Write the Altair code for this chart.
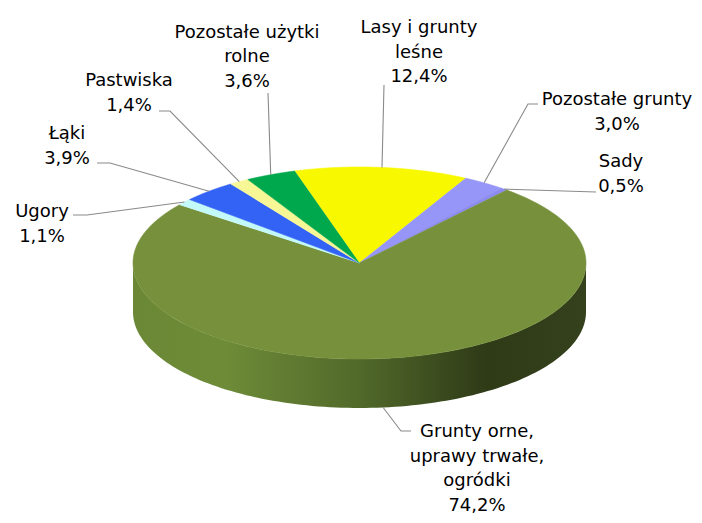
import altair as alt
import pandas as pd

# ---------------- data ----------------
categories = [
    "Lasy i grunty leśne",
    "Pozostałe grunty",
    "Sady",
    "Grunty orne, uprawy trwałe, ogródki",
    "Ugory",
    "Łąki",
    "Pastwiska",
    "Pozostałe użytki rolne",
]
values = [12.4, 3.0, 0.5, 74.2, 1.1, 3.9, 1.4, 3.6]
colors = ["#F8F800", "#9696F8", "#8C8CF0", "#76903B", "#C4F9F9", "#3363F5", "#F7F795", "#00A84D"]
label_lines = [
    "Lasy i grunty\nleśne",
    "Pozostałe grunty",
    "Sady",
    "Grunty orne,\nuprawy trwałe,\nogródki",
    "Ugory",
    "Łąki",
    "Pastwiska",
    "Pozostałe użytki\nrolne",
]

# ---------------- layout (pixel space of the page) ----------------
CX, CY, RX, RY, DEPTH = 359.5, 263.0, 226.5, 96.0, 49.0
START = -16.6
N = 120
label_x = [419, 617, 621, 477, 42, 67, 129, 247]
label_y = [33, 105, 167, 437, 217, 139, 86, 37.5]
lead_x1 = [384, 528, 596, 401, 87, 110, 170, 268]
lead_y1 = [85, 104, 192, 431, 215, 163, 111, 93]
lead_x2 = [384, 538, 596, 411, 73, 97, 159, 268]
lead_y2 = [85, 104, 192, 431, 215, 163, 111, 93]
lead_drop = [0, 0, 0, 1, 0, 0, 0, 0]

slices = pd.DataFrame({"cat": categories, "value": values, "idx": list(range(len(values)))})
layout = pd.DataFrame({
    "cat": categories, "wrapped": label_lines, "tx": label_x, "ty": label_y,
    "x1": lead_x1, "y1": lead_y1, "x2": lead_x2, "y2": lead_y2, "drop": lead_drop,
})

W, H = 686, 507
xs = alt.Scale(domain=[8, 8 + W], nice=False, zero=False)
ys = alt.Scale(domain=[8, 8 + H], nice=False, zero=False, reverse=True)
cscale = alt.Scale(domain=categories, range=colors)


def with_angles(ch):
    return (
        ch.transform_window(cum="sum(value)", sort=[alt.SortField("idx")], frame=[None, 0])
        .transform_joinaggregate(total="sum(value)")
        .transform_calculate(a0=f"{START} + (datum.cum - datum.value) / datum.total * 360")
        .transform_calculate(a1=f"{START} + datum.cum / datum.total * 360")
    )


# side wall
grad = alt.LinearGradient(
    gradient="linear",
    stops=[
        alt.GradientStop(offset=0.0, color="#6A8835"),
        alt.GradientStop(offset=0.2, color="#6E8C38"),
        alt.GradientStop(offset=0.5, color="#51692A"),
        alt.GradientStop(offset=0.78, color="#2F3A17"),
        alt.GradientStop(offset=1.0, color="#35411C"),
    ],
    x1=0, x2=1, y1=0, y2=0,
)
side = (
    alt.Chart(alt.sequence(0, 2 * N + 2, as_="s"))
    .transform_calculate(
        t=f"(datum.s <= {N} ? 90 + 180 * datum.s / {N} : 270 - 180 * (datum.s - {N} - 1) / {N}) * PI / 180"
    )
    .transform_calculate(px=f"{CX} + {RX} * sin(datum.t)")
    .transform_calculate(py=f"{CY} - {RY} * cos(datum.t) + (datum.s > {N} ? {DEPTH} : 0)")
    .mark_line(filled=True, color=grad, strokeWidth=0)
    .encode(
        x=alt.X("px:Q", scale=xs, axis=None),
        y=alt.Y("py:Q", scale=ys, axis=None),
        order=alt.Order("s:Q"),
    )
)

# top faces
top = (
    with_angles(alt.Chart(slices))
    .transform_calculate(steps=f"sequence(-1, {N + 1})")
    .transform_flatten(["steps"])
    .transform_calculate(t=f"(datum.a0 + (datum.a1 - datum.a0) * max(datum.steps, 0) / {N}) * PI / 180")
    .transform_calculate(px=f"datum.steps < 0 ? {CX} : {CX} + {RX} * sin(datum.t)")
    .transform_calculate(py=f"datum.steps < 0 ? {CY} : {CY} - {RY} * cos(datum.t)")
    .mark_line(filled=True, strokeWidth=0.6)
    .encode(
        x=alt.X("px:Q", scale=xs, axis=None),
        y=alt.Y("py:Q", scale=ys, axis=None),
        color=alt.Color("cat:N", scale=cscale, legend=None),
        stroke=alt.Stroke("cat:N", scale=cscale, legend=None),
        order=alt.Order("steps:Q"),
    )
)

# leader lines
lead = (
    with_angles(alt.Chart(slices))
    .transform_lookup(lookup="cat", from_=alt.LookupData(layout, "cat", ["x1", "y1", "x2", "y2", "drop"]))
    .transform_calculate(am="(datum.a0 + datum.a1) / 2 * PI / 180")
    .transform_calculate(ax=f"{CX} + {RX} * sin(datum.am)")
    .transform_calculate(ay=f"{CY} - {RY} * cos(datum.am) + datum.drop * {DEPTH}")
    .transform_calculate(lx="[datum.ax, datum.x1, datum.x2]")
    .transform_calculate(ly="[datum.ay, datum.y1, datum.y2]")
    .transform_calculate(lk="[0, 1, 2]")
    .transform_flatten(["lx", "ly", "lk"])
    .mark_line(color="#8A8A8A", strokeWidth=1.1)
    .encode(
        x=alt.X("lx:Q", scale=xs, axis=None),
        y=alt.Y("ly:Q", scale=ys, axis=None),
        detail="cat:N",
        order=alt.Order("lk:Q"),
    )
)

# labels
txt = (
    alt.Chart(slices)
    .transform_lookup(lookup="cat", from_=alt.LookupData(layout, "cat", ["wrapped", "tx", "ty"]))
    .transform_calculate(label="datum.wrapped + '\\n' + replace(format(datum.value, '.1f'), '.', ',') + '%'")
    .mark_text(lineBreak="\n", align="center", baseline="alphabetic", font="DejaVu Sans",
               fontSize=18, lineHeight=24.5, color="#000000")
    .encode(
        x=alt.X("tx:Q", scale=xs, axis=None),
        y=alt.Y("ty:Q", scale=ys, axis=None),
        text="label:N",
    )
)

chart = (
    alt.layer(side, top, lead, txt)
    .properties(width=W, height=H, padding=0, autosize=alt.AutoSizeParams(type="none"))
    .configure_view(stroke=None)
)

chart.save("out.html", embed_options={"renderer": "svg", "actions": False})
